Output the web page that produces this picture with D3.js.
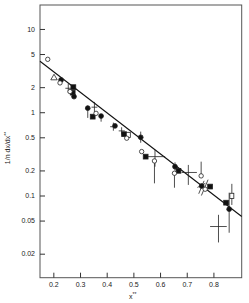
<!DOCTYPE html>
<html>
<head>
<meta charset="utf-8">
<script src="https://cdn.jsdelivr.net/npm/d3@7"></script>
<style>
  body { margin: 0; background: #fff; }
  text { font-family: "Liberation Sans", Arial, sans-serif; fill: #222; }
</style>
</head>
<body>
<div id="chart"></div>
<script>
// ticks
var xTicks = [0.2, 0.3, 0.4, 0.5, 0.6, 0.7, 0.8];
var yTicks = [10, 5, 2, 1, 0.5, 0.2, 0.1, 0.05, 0.02];
var yTickLabels = ["10", "5", "2", "1", "0.5", "0.2", "0.1", "0.05", "0.02"];

// fitted line (end points)
var lineX = [0.15, 0.906];
var lineY = [4.1, 0.056];

// points [x, y]
var openCircles = [[0.179, 4.32], [0.225, 2.25], [0.2625, 1.77], [0.36, 0.97], [0.475, 0.488],
  [0.531, 0.337], [0.579, 0.26], [0.654, 0.185], [0.754, 0.172], [0.769, 0.119]];
var filledCircles = [[0.229, 2.44], [0.2775, 1.54], [0.329, 1.12], [0.379, 0.90], [0.431, 0.685],
  [0.5275, 0.50], [0.656, 0.222], [0.756, 0.13], [0.859, 0.0686]];
var filledSquares = [[0.275, 2.0], [0.2725, 1.72], [0.3475, 0.885], [0.465, 0.545], [0.546, 0.293],
  [0.669, 0.198], [0.7875, 0.128], [0.8475, 0.082]];
var openSquares = [[0.481, 0.534], [0.869, 0.099]];
var openTriangles = [[0.2025, 2.58]];

// error bars: vertical [x, lo, hi], horizontal [y, lo, hi]
var errV = [[0.256, 1.72, 2.2], [0.329, 0.855, 1.2], [0.354, 1.0, 1.33], [0.379, 0.77, 0.95],
  [0.425, 0.6, 0.75], [0.456, 0.54, 0.66], [0.5275, 0.43, 0.585], [0.581, 0.222, 0.352],
  [0.579, 0.14, 0.26], [0.656, 0.2, 0.25], [0.654, 0.124, 0.185], [0.706, 0.134, 0.233],
  [0.754, 0.172, 0.255], [0.859, 0.0357, 0.108], [0.869, 0.077, 0.138], [0.819, 0.0273, 0.0586]];
var errH = [[1.94, 0.245, 0.267], [1.15, 0.343, 0.365], [0.67, 0.413, 0.437], [0.597, 0.445, 0.468],
  [0.293, 0.555, 0.619], [0.189, 0.681, 0.738], [0.0424, 0.7875, 0.85]];
// slanted bars [x1, y1, x2, y2]
var errS = [[0.745, 0.105, 0.765, 0.15], [0.755, 0.1, 0.78, 0.155], [0.74, 0.125, 0.77, 0.14]];

var W = 249, H = 303;
var svg = d3.select("#chart").append("svg")
  .attr("width", W).attr("height", H);

var x = d3.scaleLinear().domain([0.15, 0.906]).range([40, 241.7]);
var y = d3.scaleLog().domain([0.0103, 19.4]).range([277.7, 5]);

// frame
svg.append("rect")
  .attr("x", 40).attr("y", 5)
  .attr("width", 201.7).attr("height", 272.7)
  .attr("fill", "none").attr("stroke", "#555").attr("stroke-width", 1);

var xAxis = svg.append("g")
  .attr("transform", "translate(0,277.7)")
  .call(d3.axisBottom(x).tickValues(xTicks).tickSizeInner(-5).tickSizeOuter(0).tickPadding(4)
    .tickFormat(d3.format(".1f")));
var yAxis = svg.append("g")
  .attr("transform", "translate(40,0)")
  .call(d3.axisLeft(y).tickValues(yTicks).tickSizeInner(-5).tickSizeOuter(0).tickPadding(5)
    .tickFormat((d, i) => yTickLabels[i]));
[xAxis, yAxis].forEach(function (g) {
  g.select(".domain").remove();
  g.selectAll("line").attr("stroke", "#333");
  g.selectAll("text").attr("font-size", 7).attr("fill", "#222")
    .attr("font-family", "Liberation Sans, Arial, sans-serif");
});

// axis titles
svg.append("text").attr("x", 129).attr("y", 298.5).attr("font-size", 7)
  .attr("font-family", "Liberation Sans, Arial, sans-serif")
  .text("x").append("tspan").attr("dy", -2.5).attr("font-size", 5).text("**");
var yl = svg.append("text")
  .attr("transform", "translate(10,148) rotate(-90)")
  .attr("font-family", "Liberation Sans, Arial, sans-serif")
  .attr("text-anchor", "middle").attr("font-size", 7);
yl.append("tspan").text("1/n  dx/dx");
yl.append("tspan").attr("dy", -2.5).attr("font-size", 5).text("**");

// fitted line
svg.append("line")
  .attr("x1", x(lineX[0])).attr("y1", y(lineY[0]))
  .attr("x2", x(lineX[1])).attr("y2", y(lineY[1]))
  .attr("stroke", "#111").attr("stroke-width", 1.1);

var g = svg.append("g").attr("stroke", "#222").attr("stroke-width", 0.8);
g.selectAll(".ev").data(errV).join("line")
  .attr("x1", d => x(d[0])).attr("x2", d => x(d[0]))
  .attr("y1", d => y(d[1])).attr("y2", d => y(d[2]));
g.selectAll(".eh").data(errH).join("line")
  .attr("y1", d => y(d[0])).attr("y2", d => y(d[0]))
  .attr("x1", d => x(d[1])).attr("x2", d => x(d[2]));
g.selectAll(".es").data(errS).join("line")
  .attr("x1", d => x(d[0])).attr("y1", d => y(d[1]))
  .attr("x2", d => x(d[2])).attr("y2", d => y(d[3]));

g.selectAll(".fs").data(filledSquares).join("rect")
  .attr("x", d => x(d[0]) - 2.4).attr("y", d => y(d[1]) - 2.4)
  .attr("width", 4.8).attr("height", 4.8).attr("fill", "#111");
g.selectAll(".os").data(openSquares).join("rect")
  .attr("x", d => x(d[0]) - 2).attr("y", d => y(d[1]) - 2.6)
  .attr("width", 4).attr("height", 5.2).attr("fill", "#fff");
g.selectAll(".fc").data(filledCircles).join("circle")
  .attr("cx", d => x(d[0])).attr("cy", d => y(d[1])).attr("r", 2.4).attr("fill", "#111");
g.selectAll(".oc").data(openCircles).join("circle")
  .attr("cx", d => x(d[0])).attr("cy", d => y(d[1])).attr("r", 2.2).attr("fill", "#fff");
g.selectAll(".ot").data(openTriangles).join("path")
  .attr("d", d3.symbol(d3.symbolTriangle, 18))
  .attr("transform", d => `translate(${x(d[0])},${y(d[1])})`).attr("fill", "#fff");
</script>
</body>
</html>
